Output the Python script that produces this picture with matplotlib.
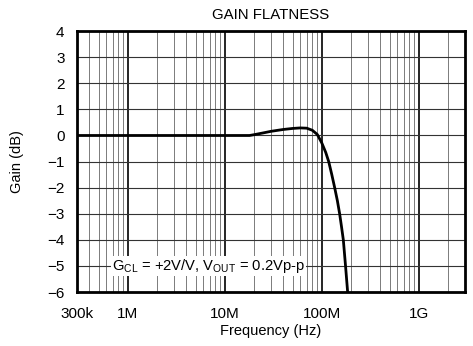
import matplotlib
matplotlib.use('Agg')
import matplotlib.pyplot as plt
from matplotlib.ticker import LogLocator, NullFormatter

plt.rcParams['font.family'] = ['Liberation Sans', 'DejaVu Sans']
plt.rcParams['mathtext.fontset'] = 'custom'
plt.rcParams['mathtext.rm'] = 'Liberation Sans'

# gain flatness curve
freq_hz = [3e5, 1e6, 5e6, 10e6, 18e6, 20e6, 25e6, 30e6, 40e6, 50e6, 60e6, 70e6,
           80e6, 90e6, 100e6, 110e6, 118e6, 127e6, 136e6, 145e6, 153e6, 160e6,
           167e6, 176e6, 185e6]
gain_db = [0.0, 0.0, 0.0, 0.0, 0.0, 0.03, 0.1, 0.16, 0.23, 0.27, 0.29, 0.28,
           0.2, 0.04, -0.28, -0.65, -1.0, -1.5, -2.0, -2.5, -3.0, -3.5,
           -4.0, -5.0, -6.0]

xtick_pos = [3e5, 1e6, 1e7, 1e8, 1e9]
xtick_labels = ['300k', '1M', '10M', '100M', '1G']
ytick_pos = list(range(-6, 5))

fig = plt.figure(figsize=(4.73, 3.46), dpi=100)
ax = fig.add_axes([0.163, 0.156, 0.820, 0.754])

ax.plot(freq_hz, gain_db, color='black', lw=2.0, zorder=4)

ax.set_xscale('log')
ax.set_xlim(3e5, 3e9)
ax.set_ylim(-6, 4)
ax.set_xticks(xtick_pos)
ax.set_xticklabels(xtick_labels)
ax.xaxis.set_minor_locator(LogLocator(base=10, subs=range(2, 10), numticks=20))
ax.xaxis.set_minor_formatter(NullFormatter())
ax.set_yticks(ytick_pos)
ax.tick_params(which='both', length=0, labelsize=11)
ax.tick_params(axis='x', pad=11)
ax.tick_params(axis='y', pad=9)

# grid: heavy decade lines, light minor lines
ax.grid(which='major', axis='x', color='black', lw=1.2)
ax.grid(which='minor', axis='x', color='#666666', lw=0.6)
ax.grid(which='major', axis='y', color='#333333', lw=0.8)
ax.set_axisbelow(True)
for sp in ax.spines.values():
    sp.set_linewidth(2.0)

ax.set_title('GAIN FLATNESS', fontsize=10.8, pad=9)
ax.set_xlabel('Frequency (Hz)', fontsize=10.5, labelpad=2)
ax.set_ylabel('Gain (dB)', fontsize=10.5, labelpad=17)

ax.text(6.9e5, -5, r'G$_{\mathregular{CL}}$ = +2V/V, V$_{\mathregular{OUT}}$ = 0.2Vp-p',
        fontsize=10.6, va='center', ha='left', zorder=3,
        bbox=dict(facecolor='white', edgecolor='none', pad=0.5))

fig.savefig('out.png', dpi=100)
